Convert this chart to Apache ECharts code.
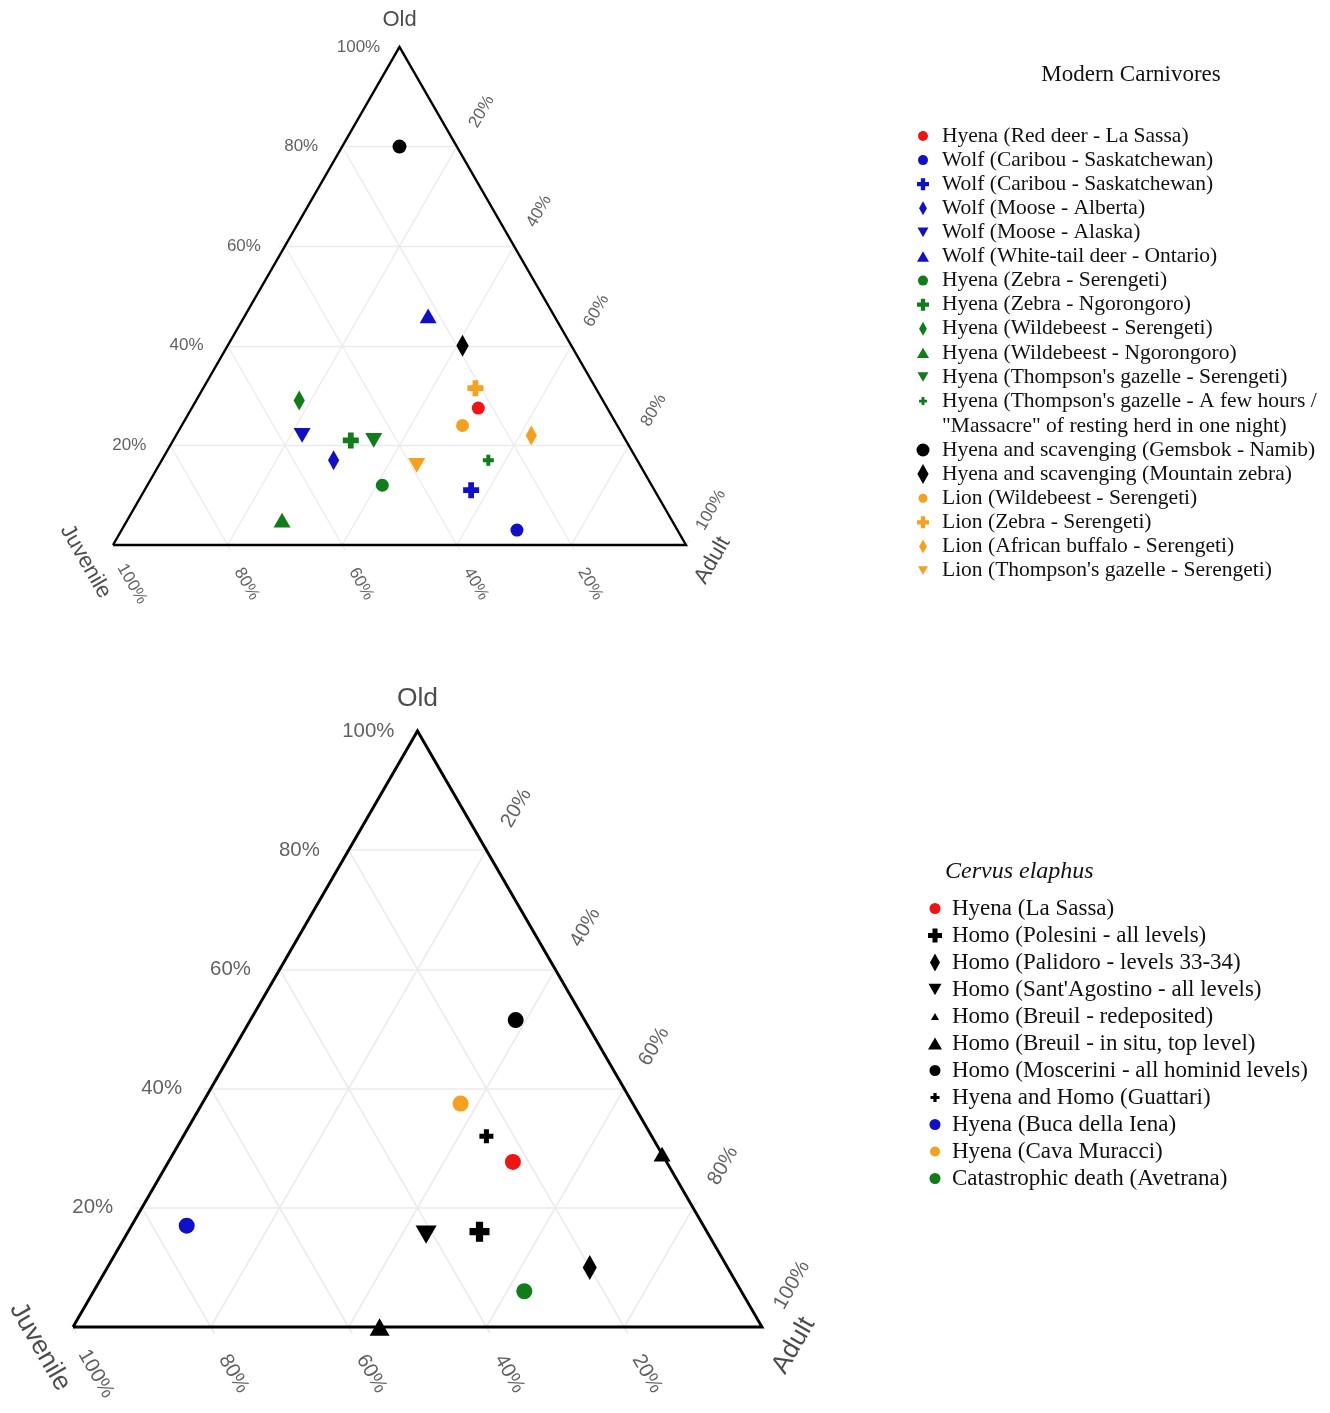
<!DOCTYPE html>
<html>
<head>
    <title>Ternary age profiles</title>
    <meta charset="utf-8" />
    <script src="https://cdn.jsdelivr.net/npm/echarts@6/dist/echarts.min.js"></script>
    <style type="text/css">
        html,
        body {
            margin: 0;
            background: #fff;
        }

        #main {
            width: 1330px;
            height: 1413px;
        }
    </style>
</head>

<body>
    <div id="main"></div>
    <script>
        // ternary values in % : juvenile / adult / old
        var tickValues = [20, 40, 60, 80, 100];
        var gridValues = [20, 40, 60, 80];

        // Modern carnivores
        var carnNames = [
            'Hyena (Red deer - La Sassa)',
            'Wolf (Caribou - Saskatchewan)',
            'Wolf (Caribou - Saskatchewan) ',
            'Wolf (Moose - Alberta)',
            'Wolf (Moose - Alaska)',
            'Wolf (White-tail deer - Ontario)',
            'Hyena (Zebra - Serengeti)',
            'Hyena (Zebra - Ngorongoro)',
            'Hyena (Wildebeest - Serengeti)',
            'Hyena (Wildebeest - Ngorongoro)',
            "Hyena (Thompson's gazelle - Serengeti)",
            "Hyena (Thompson's gazelle - A few hours /\n\"Massacre\" of resting herd in one night)",
            'Hyena and scavenging (Gemsbok - Namib)',
            'Hyena and scavenging (Mountain zebra)',
            'Lion (Wildebeest - Serengeti)',
            'Lion (Zebra - Serengeti)',
            'Lion (African buffalo - Serengeti)',
            "Lion (Thompson's gazelle - Serengeti)"
        ];
        var carnJuvenile = [22.5, 28, 32, 53, 56, 22, 47, 48, 53, 68, 44, 26, 10, 19, 27, 21, 16, 39];
        var carnAdult = [50, 69, 57, 30, 22, 32, 41, 31, 18, 27, 35, 57, 10, 41, 49, 47.5, 62, 45];
        var carnOld = [27.5, 3, 11, 17, 22, 46, 12, 21, 29, 5, 21, 17, 80, 40, 24, 31.5, 22, 16];

        // Cervus elaphus
        var cervNames = [
            'Hyena (La Sassa)',
            'Homo (Polesini - all levels)',
            'Homo (Palidoro - levels 33-34)',
            "Homo (Sant'Agostino - all levels)",
            'Homo (Breuil - redeposited)',
            'Homo (Breuil - in situ, top level)',
            'Homo (Moscerini - all hominid levels)',
            'Hyena and Homo (Guattari)',
            'Hyena (Buca della Iena)',
            'Hyena (Cava Muracci)',
            'Catastrophic death (Avetrana)'
        ];
        var cervJuvenile = [22.3, 33, 20, 41, 0, 55.5, 10, 24, 75, 25, 31.5];
        var cervAdult = [50, 51, 70, 43.5, 71, 44.5, 38.5, 44, 8, 37.5, 62.5];
        var cervOld = [27.7, 16, 10, 15.5, 29, 0, 51.5, 32, 17, 37.5, 6];

        // styles
        var RED = '#f21414', BLUE = '#1010c8', GREEN = '#0f7d1a', ORANGE = '#f6a11e', BLACK = '#000000';
        var SHAPES = {
            circle: { path: 'M0,5A5,5,0,1,1,10,5A5,5,0,1,1,0,5Z', cx: 5, cy: 5 },
            plus: { path: 'M3.2,0H6.8V3.2H10V6.8H6.8V10H3.2V6.8H0V3.2H3.2Z', cx: 5, cy: 5 },
            diamond: { path: 'M2.8,0L5.6,5L2.8,10L0,5Z', cx: 2.8, cy: 5 },
            up: { path: 'M5,0L10,8.7H0Z', cx: 5, cy: 4.35 },
            down: { path: 'M0,0H10L5,8.7Z', cx: 5, cy: 4.35 }
        };
        var carnColors = [RED, BLUE, BLUE, BLUE, BLUE, BLUE, GREEN, GREEN, GREEN, GREEN, GREEN, GREEN, BLACK, BLACK, ORANGE, ORANGE, ORANGE, ORANGE];
        var carnShapes = ['circle', 'circle', 'plus', 'diamond', 'down', 'up', 'circle', 'plus', 'diamond', 'up', 'down', 'plus', 'circle', 'diamond', 'circle', 'plus', 'diamond', 'down'];
        var carnSizes = [13, 13, 16, 20, 17, 17, 13, 16, 20, 17, 17, 11, 14, 22, 13, 16, 20, 17];
        var carnIcons = [10, 10, 12, 14, 11, 12, 10, 12, 14, 12, 11, 8, 13, 20, 9, 12, 14, 10];

        var cervColors = [RED, BLACK, BLACK, BLACK, BLACK, BLACK, BLACK, BLACK, BLUE, ORANGE, GREEN];
        var cervShapes = ['circle', 'plus', 'diamond', 'down', 'up', 'up', 'circle', 'plus', 'circle', 'circle', 'circle'];
        var cervSizes = [16, 20, 25, 21, 17, 20, 16, 14, 16, 16, 16];
        var cervIcons = [11, 14, 18, 13, 8, 14, 11, 9, 11, 10, 11];

        var plots = [
            { left: 113, top: 47, width: 573, height: 498, k: 1 },
            { left: 73, top: 731, width: 689, height: 596, k: 1.2 }
        ];

        // the three ternary axes: point on the labelled edge, pixel offsets of tick, label and title
        var axes = [
            { title: 'Old', edge: function (t) { return [100 - t, 0, t]; }, corner: [0, 0, 100], tick: [-6, 0], label: [-41, 0], rotate: 0, titleOff: [0, -27], titleRotate: 0 },
            { title: 'Juvenile', edge: function (t) { return [t, 100 - t, 0]; }, corner: [100, 0, 0], tick: [3, 5.2], label: [19, 39], rotate: -60, titleOff: [-27.5, 16.5], titleRotate: -60 },
            { title: 'Adult', edge: function (t) { return [0, t, 100 - t]; }, corner: [0, 100, 0], tick: [3, -5.2], label: [25, -35], rotate: 60, titleOff: [26.5, 15.5], titleRotate: 60 }
        ];

        function toXY(j, a, o) {
            var s = j + a + o;
            return [(a + o / 2) * 100 / s, o * 100 / s];
        }
        function shift(p, dx, dy, plot) {
            return [p[0] + dx / (plot.width / 100), p[1] - dy / (plot.height / 100)];
        }
        function symbolOf(shape) {
            return 'path://' + SHAPES[shape].path;
        }
        // legend icon drawn smaller inside the icon box (box height h)
        function iconOf(shape, px, h) {
            var s = SHAPES[shape], r = 5 * h / px;
            return 'path://M' + (s.cx - r) + ',' + (s.cy - r) + 'M' + (s.cx + r) + ',' + (s.cy + r) + s.path;
        }

        var grid = [], xAxis = [], yAxis = [], series = [];

        plots.forEach(function (plot, pi) {
            grid.push({ left: plot.left, top: plot.top, width: plot.width, height: plot.height });
            xAxis.push({ type: 'value', gridIndex: pi, min: 0, max: 100, show: false });
            yAxis.push({ type: 'value', gridIndex: pi, min: 0, max: 100, show: false });

            // grid lines
            var gl = [];
            gridValues.forEach(function (t) {
                gl.push({ coords: [toXY(100 - t, 0, t), toXY(0, 100 - t, t)] });
                gl.push({ coords: [toXY(t, 100 - t, 0), toXY(t, 0, 100 - t)] });
                gl.push({ coords: [toXY(100 - t, t, 0), toXY(0, t, 100 - t)] });
            });
            // ticks
            axes.forEach(function (ax) {
                tickValues.forEach(function (t) {
                    var e = ax.edge(t);
                    var p = toXY(e[0], e[1], e[2]);
                    gl.push({ coords: [p, shift(p, ax.tick[0] * plot.k, ax.tick[1] * plot.k, plot)] });
                });
            });
            series.push({
                type: 'lines', coordinateSystem: 'cartesian2d', xAxisIndex: pi, yAxisIndex: pi,
                silent: true, clip: false, z: 1, polyline: false,
                lineStyle: { color: '#ebebeb', width: 1.3 * plot.k, opacity: 1 },
                data: gl
            });

            // triangle outline
            series.push({
                type: 'lines', coordinateSystem: 'cartesian2d', xAxisIndex: pi, yAxisIndex: pi,
                silent: true, clip: false, z: 2, polyline: true,
                lineStyle: { color: '#000', width: 2.4 * plot.k, opacity: 1, join: 'miter' },
                data: [{ coords: [toXY(100, 0, 0), toXY(0, 100, 0), toXY(0, 0, 100), toXY(100, 0, 0)] }]
            });

            // tick labels and axis titles
            axes.forEach(function (ax) {
                var labels = tickValues.map(function (t) {
                    var e = ax.edge(t);
                    return { name: t + '%', value: shift(toXY(e[0], e[1], e[2]), ax.label[0] * plot.k, ax.label[1] * plot.k, plot) };
                });
                series.push({
                    type: 'scatter', xAxisIndex: pi, yAxisIndex: pi, silent: true, clip: false, z: 3,
                    symbolSize: 1, itemStyle: { color: 'rgba(0,0,0,0)' },
                    label: {
                        show: true, position: 'inside', formatter: '{b}', rotate: ax.rotate,
                        align: 'center', verticalAlign: 'middle',
                        color: '#3a3a3a', fontFamily: 'Liberation Sans', fontSize: 17 * plot.k
                    },
                    data: labels
                });
                series.push({
                    type: 'scatter', xAxisIndex: pi, yAxisIndex: pi, silent: true, clip: false, z: 3,
                    symbolSize: 1, itemStyle: { color: 'rgba(0,0,0,0)' },
                    label: {
                        show: true, position: 'inside', formatter: '{b}', rotate: ax.titleRotate,
                        align: 'center', verticalAlign: 'middle',
                        color: '#1e1e1e', fontFamily: 'Liberation Sans', fontSize: 22 * plot.k
                    },
                    data: [{
                        name: ax.title,
                        value: shift(toXY(ax.corner[0], ax.corner[1], ax.corner[2]), ax.titleOff[0] * plot.k, ax.titleOff[1] * plot.k, plot)
                    }]
                });
            });
        });

        function addPoints(pi, names, juv, adu, old, colors, shapes, sizes) {
            names.forEach(function (name, i) {
                series.push({
                    type: 'scatter', name: name, xAxisIndex: pi, yAxisIndex: pi, z: 5, clip: false,
                    symbol: symbolOf(shapes[i]), symbolSize: sizes[i], symbolKeepAspect: true,
                    itemStyle: { color: colors[i], opacity: 1 },
                    data: [toXY(juv[i], adu[i], old[i])]
                });
            });
        }
        addPoints(0, carnNames, carnJuvenile, carnAdult, carnOld, carnColors, carnShapes, carnSizes);
        addPoints(1, cervNames, cervJuvenile, cervAdult, cervOld, cervColors, cervShapes, cervSizes);

        function legendData(names, shapes, icons, from, to, h) {
            return names.slice(from, to).map(function (n, i) {
                return { name: n, icon: iconOf(shapes[from + i], icons[from + i], h) };
            });
        }
        var legendFormatter = function (name) {
            return name.split('\n')[0].replace(/\s+$/, '');
        };
        var carnText = { fontFamily: 'Liberation Serif', fontSize: 21.5, color: '#111', lineHeight: 24 };
        var cervText = { fontFamily: 'Liberation Serif', fontSize: 23, color: '#111', lineHeight: 27 };

        var option = {
            backgroundColor: '#ffffff',
            animation: false,
            grid: grid,
            xAxis: xAxis,
            yAxis: yAxis,
            legend: [
                {
                    orient: 'vertical', left: 913, top: 124, padding: 0, itemGap: 0.1,
                    itemWidth: 28, itemHeight: 20, selectedMode: false,
                    textStyle: carnText, formatter: legendFormatter,
                    data: legendData(carnNames, carnShapes, carnIcons, 0, 12, 20)
                },
                {
                    orient: 'vertical', left: 913, top: 438, padding: 0, itemGap: 0.1,
                    itemWidth: 28, itemHeight: 20, selectedMode: false,
                    textStyle: carnText, formatter: legendFormatter,
                    data: legendData(carnNames, carnShapes, carnIcons, 12, 18, 20)
                },
                {
                    orient: 'vertical', left: 925, top: 895, padding: 0, itemGap: 0,
                    itemWidth: 24, itemHeight: 20, selectedMode: false,
                    textStyle: cervText, formatter: legendFormatter,
                    data: legendData(cervNames, cervShapes, cervIcons, 0, 11, 20)
                }
            ],
            graphic: [
                {
                    type: 'text', x: 1131, y: 75,
                    style: { text: 'Modern Carnivores', fontFamily: 'Liberation Serif', fontSize: 23, fill: '#111', align: 'center', verticalAlign: 'middle' }
                },
                {
                    type: 'text', x: 942, y: 426,
                    style: { text: carnNames[11].split('\n')[1], fontFamily: 'Liberation Serif', fontSize: 21.5, fill: '#111', align: 'left', verticalAlign: 'middle' }
                },
                {
                    type: 'text', x: 945, y: 872,
                    style: { text: 'Cervus elaphus', fontFamily: 'Liberation Serif', fontStyle: 'italic', fontSize: 24, fill: '#111', align: 'left', verticalAlign: 'middle' }
                }
            ],
            series: series
        };

        var myChart = echarts.init(document.getElementById('main'));
        myChart.setOption(option);
    </script>
</body>
</html>
